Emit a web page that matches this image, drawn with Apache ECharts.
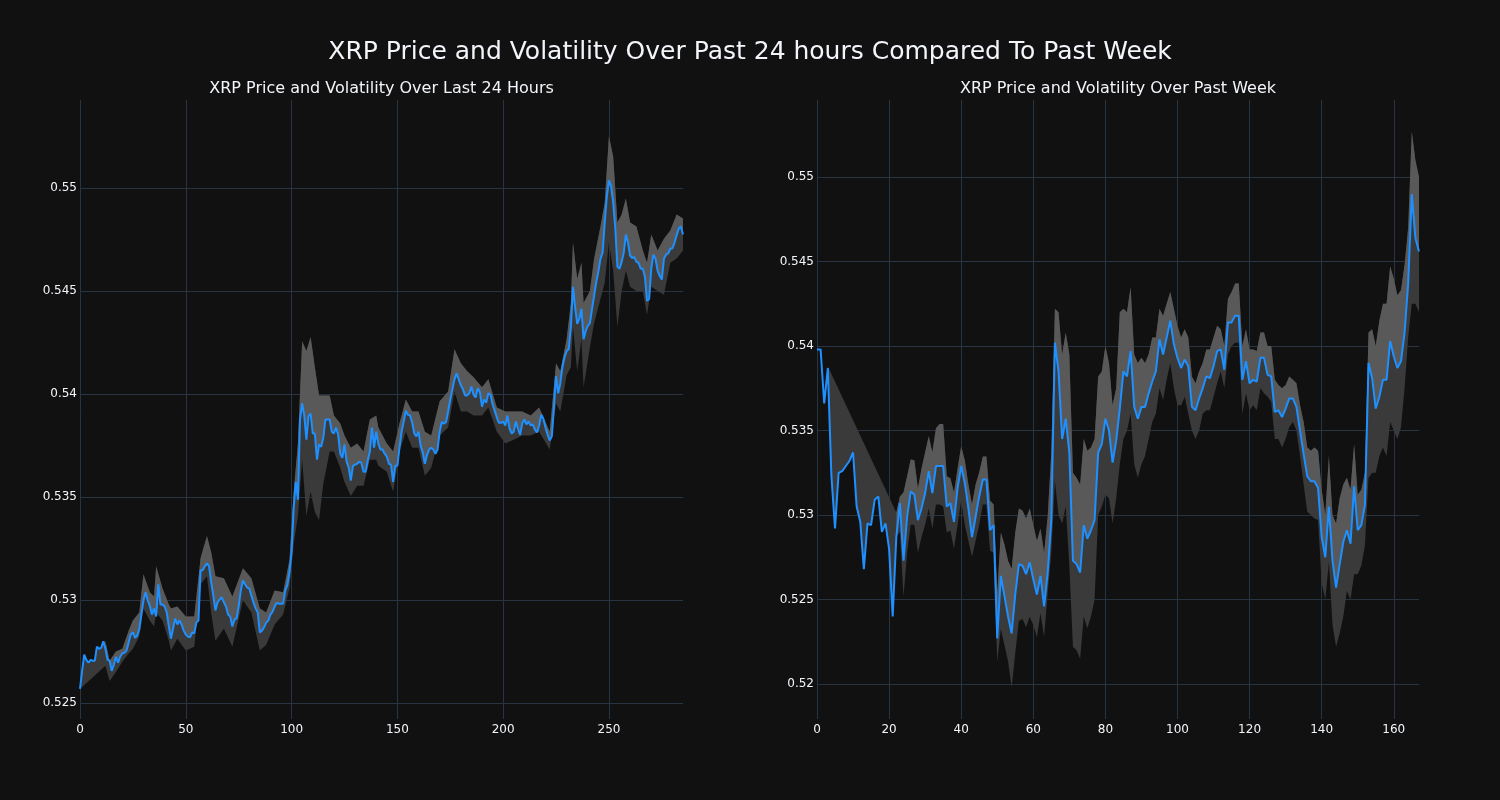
<!DOCTYPE html>
<html><head><meta charset="utf-8">
<script src="https://cdn.jsdelivr.net/npm/echarts@6/dist/echarts.min.js"></script>
<style>html,body{margin:0;padding:0;background:#111111;} #c{width:1500px;height:800px;}</style>
</head><body><div id="c"></div>
<script>
// ---------- 24 hour data (5-minute steps) ----------
const price24 = [
0.52568,0.52656,0.52734,0.52709,0.52695,0.52709,0.52705,0.52705,0.52773,0.52763,
0.52767,0.52799,0.52763,0.52709,0.52705,0.52656,0.52685,0.52724,0.52695,0.52724,
0.52740,0.52744,0.52754,0.52793,0.52832,0.52842,0.52816,0.52826,0.52857,0.52929,
0.52998,0.53037,0.52998,0.52972,0.52929,0.52959,0.52920,0.53076,0.52978,0.52978,
0.52968,0.52939,0.52871,0.52812,0.52861,0.52910,0.52881,0.52900,0.52881,0.52851,
0.52832,0.52822,0.52818,0.52842,0.52838,0.52890,0.52900,0.53144,0.53144,0.53164,
0.53177,0.53164,0.53085,0.53021,0.52949,0.52988,0.53002,0.53013,0.52988,0.52968,
0.52929,0.52920,0.52871,0.52904,0.52910,0.52968,0.53046,0.53095,0.53076,0.53060,
0.53056,0.53021,0.52988,0.52959,0.52939,0.52842,0.52851,0.52867,0.52890,0.52900,
0.52929,0.52943,0.52968,0.52986,0.52982,0.52982,0.52982,0.53046,0.53072,0.53134,
0.53232,0.53447,0.53573,0.53486,0.53876,0.53954,0.53895,0.53778,0.53891,0.53905,
0.53808,0.53808,0.53681,0.53755,0.53743,0.53788,0.53876,0.53876,0.53876,0.53817,
0.53808,0.53837,0.53802,0.53710,0.53690,0.53755,0.53671,0.53642,0.53579,0.53651,
0.53657,0.53661,0.53671,0.53665,0.53622,0.53622,0.53677,0.53720,0.53837,0.53739,
0.53817,0.53759,0.53730,0.53730,0.53710,0.53696,0.53661,0.53657,0.53573,0.53651,
0.53651,0.53739,0.53817,0.53866,0.53919,0.53899,0.53895,0.53860,0.53808,0.53794,
0.53817,0.53749,0.53716,0.53661,0.53704,0.53730,0.53739,0.53730,0.53710,0.53730,
0.53817,0.53864,0.53856,0.53864,0.53915,0.53973,0.54022,0.54071,0.54100,0.54071,
0.54042,0.54022,0.53993,0.53993,0.54003,0.54036,0.53997,0.53983,0.54028,0.54009,
0.53938,0.53973,0.53958,0.54003,0.53997,0.53950,0.53919,0.53886,0.53860,0.53860,
0.53866,0.53847,0.53895,0.53833,0.53808,0.53817,0.53866,0.53831,0.53802,0.53856,
0.53876,0.53852,0.53866,0.53847,0.53852,0.53827,0.53813,0.53847,0.53899,0.53880,
0.53837,0.53802,0.53774,0.53794,0.53934,0.54087,0.54003,0.54052,0.54130,0.54178,
0.54208,0.54217,0.54325,0.54520,0.54422,0.54340,0.54364,0.54413,0.54266,0.54305,
0.54331,0.54344,0.54413,0.54477,0.54543,0.54594,0.54657,0.54686,0.54832,0.54959,
0.55037,0.55008,0.54930,0.54803,0.54617,0.54608,0.54641,0.54686,0.54774,0.54735,
0.54672,0.54660,0.54664,0.54641,0.54637,0.54608,0.54608,0.54569,0.54452,0.54461,
0.54608,0.54676,0.54657,0.54598,0.54573,0.54555,0.54657,0.54676,0.54682,0.54705,
0.54707,0.54735,0.54770,0.54803,0.54813,0.54774
];
const bandX24 = [0,1,2,3,4,5,6,7,8,9,10,11,12,14,17,20,23,25,28,30,33,35,36,39,42,43,46,50,54,57,60,62,64,68,72,77,81,85,88,92,96,99,101,103,105,107,109,111,113,115,118,120,123,125,128,131,134,137,140,141,145,148,151,154,157,160,163,166,170,174,177,180,183,186,190,193,197,201,205,209,213,217,222,225,227,230,232,233,235,237,238,241,243,246,248,250,252,254,256,258,260,263,266,268,270,273,276,279,282,285];
const bandUp24 = [0.52568,0.52656,0.52734,0.52709,0.52695,0.52709,0.52705,0.52705,0.52773,0.52763,0.52767,0.52799,0.5280,0.52705,0.5275,0.52763,0.5285,0.52900,0.52939,0.53125,0.53037,0.53017,0.53164,0.53056,0.52978,0.52959,0.52968,0.52920,0.52920,0.53203,0.53310,0.53232,0.53115,0.53105,0.53017,0.53154,0.53105,0.52959,0.52939,0.53046,0.53037,0.53193,0.53525,0.53759,0.54256,0.54208,0.54276,0.54130,0.53993,0.53993,0.53993,0.53895,0.53856,0.53798,0.53739,0.53759,0.53720,0.53876,0.53895,0.53837,0.53759,0.53720,0.53856,0.53973,0.53915,0.53915,0.53817,0.53798,0.53964,0.54012,0.54217,0.54149,0.54110,0.54081,0.54032,0.54071,0.53934,0.53915,0.53915,0.53915,0.53895,0.53934,0.53817,0.54149,0.54110,0.54266,0.54442,0.54735,0.54559,0.54637,0.54442,0.54500,0.54657,0.54813,0.54930,0.55251,0.55153,0.54832,0.54871,0.54949,0.54832,0.54813,0.54696,0.54637,0.54774,0.54696,0.54754,0.54793,0.54871,0.54852];
const bandLo24 = [0.52568,null,null,null,null,null,null,null,null,null,null,null,0.5268,0.52607,0.5265,0.5270,0.5274,0.52763,0.52822,0.52959,0.52900,0.52871,0.52939,0.52900,0.52802,0.52754,0.52812,0.52754,0.52773,0.53076,0.53115,0.52939,0.52802,0.52861,0.52773,0.52998,0.52939,0.52754,0.52783,0.52881,0.52929,0.53056,0.53271,0.53407,0.53681,0.53407,0.53525,0.53427,0.53388,0.53564,0.53720,0.53720,0.53642,0.53573,0.53505,0.53554,0.53554,0.53681,0.53681,0.53651,0.53622,0.53525,0.53720,0.53817,0.53739,0.53739,0.53603,0.53642,0.53798,0.53837,0.54012,0.53915,0.53915,0.53895,0.53895,0.53934,0.53817,0.53759,0.53778,0.53798,0.53798,0.53817,0.53730,0.53954,0.53915,0.54091,0.54130,0.54325,0.54110,0.54266,0.54032,0.54227,0.54344,0.54461,0.54540,0.54735,0.54598,0.54325,0.54500,0.54598,0.54520,0.54500,0.54500,0.54383,0.54520,0.54500,0.54481,0.54637,0.54657,0.54696];

// ---------- past week data (hourly) ----------
const priceWeek = [
0.5398,0.5398,0.5366,0.5387,0.5323,0.5292,0.5325,0.5326,0.5329,0.5332,
0.5337,0.5305,0.5296,0.5268,0.5295,0.5294,0.5309,0.5311,0.5290,0.5295,
0.5280,0.5240,0.5287,0.5307,0.5273,0.5299,0.5314,0.5312,0.5297,0.5304,
0.5313,0.5326,0.5313,0.5329,0.5329,0.5329,0.5305,0.5307,0.5296,0.5316,
0.5329,0.5319,0.5304,0.5287,0.5299,0.5311,0.5321,0.5321,0.5291,0.5294,
0.5227,0.5264,0.5252,0.5240,0.5230,0.5253,0.5271,0.5270,0.5265,0.5272,
0.5262,0.5253,0.5264,0.5246,0.5266,0.5297,0.5402,0.5385,0.5345,0.5357,
0.5337,0.5273,0.5271,0.5266,0.5294,0.5286,0.5291,0.5297,0.5337,0.5342,
0.5357,0.5350,0.5331,0.5344,0.5363,0.5385,0.5382,0.5397,0.5364,0.5357,
0.5364,0.5364,0.5372,0.5379,0.5385,0.5404,0.5395,0.5405,0.5415,0.5401,
0.5393,0.5387,0.5392,0.5388,0.5364,0.5362,0.5369,0.5375,0.5382,0.5381,
0.5388,0.5397,0.5398,0.5386,0.5414,0.5414,0.5418,0.5418,0.5380,0.5391,
0.5378,0.5380,0.5379,0.5393,0.5393,0.5383,0.5382,0.5361,0.5362,0.5358,
0.5363,0.5369,0.5369,0.5364,0.5350,0.5336,0.5323,0.5320,0.5320,0.5316,
0.5287,0.5275,0.5305,0.5273,0.5257,0.5271,0.5284,0.5291,0.5283,0.5317,
0.5291,0.5294,0.5306,0.5390,0.5381,0.5363,0.5370,0.5380,0.5380,0.5403,
0.5394,0.5387,0.5391,0.5408,0.5437,0.5490,0.5464,0.5456
];
const bandXWeek = [3,4,5,6,7,8,9,10,11,12,13,14,15,16,17,18,19,20,21,22,23,24,25,26,27,28,29,30,31,32,33,34,35,36,37,38,39,40,41,42,43,44,45,46,47,48,49,50,51,52,53,54,55,56,57,58,59,60,61,62,63,64,65,66,67,68,69,70,71,72,73,74,75,76,77,78,79,80,81,82,83,84,85,86,87,88,89,90,91,92,93,94,95,96,97,98,99,100,101,102,103,104,105,106,107,108,109,110,111,112,113,114,115,116,117,118,119,120,121,122,123,124,125,126,127,128,129,130,131,132,133,134,135,136,137,138,139,140,141,142,143,144,145,146,147,148,149,150,151,152,153,154,155,156,157,158,159,160,161,162,163,164,165,166,167];
const bandUpWeek = [0.5388,null,null,null,null,null,null,null,null,null,null,null,null,null,null,null,null,null,null,
0.53015,0.5311,0.53134,0.53229,0.53328,0.53324,0.53157,0.53276,0.53371,0.53466,0.53371,0.53514,0.53538,0.53538,0.53229,0.53217,0.53134,0.53276,0.53407,0.53324,0.53181,0.53062,0.53181,0.53252,0.53347,0.53347,0.53086,0.53062,
0.52539,0.52896,0.52825,0.5273,0.52682,0.52896,0.53038,0.53027,0.52979,0.53038,0.52943,0.52848,0.5292,0.52777,0.52991,0.53371,
0.5422,0.5420,0.5395,0.5408,0.5395,0.5325,0.5322,0.5318,0.5345,0.5338,0.5340,0.5345,0.5382,0.5385,0.5400,0.5390,0.5365,0.5375,0.5420,0.5422,0.5420,0.5435,0.5395,0.5390,0.5393,0.5390,0.5395,0.5405,0.5405,0.5422,0.5418,0.5425,0.5432,0.5422,0.5412,0.5405,0.5410,0.5405,0.5382,0.5378,0.5385,0.5390,0.5398,0.5398,0.5405,0.5412,0.5410,0.5400,0.5428,0.5432,0.5437,0.5437,0.5400,0.5410,0.5398,0.5398,0.5397,0.5408,0.5408,0.5400,0.5400,0.5380,0.5377,0.5375,0.5377,0.5382,0.5380,0.5378,0.5365,0.5355,0.5340,0.5338,0.5340,0.5338,0.5315,0.5300,0.5335,0.5300,0.5295,0.5310,0.5318,0.5322,0.5315,0.5342,0.5312,0.5315,0.5325,0.5408,0.5410,0.5400,0.5415,0.5425,0.5425,0.5447,0.5440,0.5430,0.5433,0.5448,0.5470,0.5527,0.5510,0.5500];
const bandLoWeek = [0.5388,0.5323,0.5292,0.5325,0.5326,0.5329,0.5332,0.5337,0.5305,0.5296,0.5268,0.5295,0.5294,0.5309,0.5311,0.5290,0.5295,0.5280,0.5240,
0.52872,0.5290,0.52516,0.52777,0.52943,0.52943,0.52777,0.52872,0.52943,0.53038,0.5292,0.53062,0.53062,0.5305,0.52896,0.52908,0.52801,0.52943,0.53086,0.52943,0.52848,0.52753,0.52848,0.52943,0.53062,0.53062,0.52789,0.52777,
0.52135,0.52326,0.52231,0.52135,0.5198,0.52183,0.52373,0.52385,0.52337,0.52397,0.52349,0.52278,0.52421,0.52278,0.52539,0.52777,
0.5320,0.5300,0.5295,0.5305,0.5270,0.5222,0.5220,0.5215,0.5240,0.5233,0.5240,0.5250,0.5300,0.5305,0.5312,0.5310,0.5295,0.5310,0.5330,0.5345,0.5350,0.5360,0.5330,0.5322,0.5330,0.5335,0.5345,0.5355,0.5360,0.5375,0.5368,0.5380,0.5390,0.5375,0.5365,0.5365,0.5370,0.5360,0.5350,0.5345,0.5350,0.5360,0.5362,0.5362,0.5370,0.5378,0.5385,0.5375,0.5395,0.5400,0.5402,0.5402,0.5360,0.5372,0.5362,0.5365,0.5362,0.5375,0.5372,0.5370,0.5367,0.5345,0.5345,0.5340,0.5345,0.5352,0.5355,0.5350,0.5335,0.5318,0.5302,0.5300,0.5298,0.5297,0.5260,0.5250,0.5272,0.5235,0.5222,0.5230,0.5240,0.5255,0.5250,0.5265,0.5265,0.5270,0.5282,0.5322,0.5325,0.5325,0.5335,0.5340,0.5335,0.5355,0.5350,0.5345,0.5352,0.5375,0.5405,0.5425,0.5425,0.5420];

// ---------- axis ticks ----------
const xTicks24 = [0, 50, 100, 150, 200, 250];
const yTicks24 = [0.525, 0.53, 0.535, 0.54, 0.545, 0.55];
const xTicksWeek = [0, 20, 40, 60, 80, 100, 120, 140, 160];
const yTicksWeek = [0.52, 0.525, 0.53, 0.535, 0.54, 0.545, 0.55];

const mainTitle = 'XRP Price and Volatility Over Past 24 hours Compared To Past Week';
const subTitle24 = 'XRP Price and Volatility Over Last 24 Hours';
const subTitleWeek = 'XRP Price and Volatility Over Past Week';

const FONT = 'DejaVu Sans';
const TXT = '#f2f5fa';
const GRID = '#283442';
const LINE = '#1e90ff';
const DARK = '#3a3a3a';
const LIGHT = '#595959';

function bandPolys(price, bx, bu, bl, lightStart) {
  const up = [], lo = [];
  bx.forEach((x, i) => {
    if (bu[i] != null) up.push([x, bu[i]]);
    if (bl[i] != null) lo.push([x, bl[i]]);
  });
  const dark = up.concat(lo.slice().reverse());
  const lastX = bx[bx.length - 1];
  const lineSeg = price.map((v, i) => [i, v]).filter(p => p[0] >= lightStart && p[0] <= lastX);
  const upSeg = up.filter(p => p[0] >= lightStart);
  const light = lineSeg.concat(upSeg.slice().reverse());
  return { dark, light };
}

function polySeries(pts, color, idx, z) {
  return {
    type: 'custom', coordinateSystem: 'cartesian2d', xAxisIndex: idx, yAxisIndex: idx,
    silent: true, z: z, clip: true, data: [pts[0]],
    renderItem: (params, api) => ({
      type: 'polygon',
      shape: { points: pts.map(p => api.coord(p)) },
      style: { fill: color, stroke: null }
    })
  };
}

function lineSeries(price, idx) {
  return {
    type: 'line', xAxisIndex: idx, yAxisIndex: idx, showSymbol: false, z: 5,
    data: price.map((v, i) => [i, v]),
    lineStyle: { color: LINE, width: 2 }, itemStyle: { color: LINE }, silent: true
  };
}

function xAxis(idx, max, ticks) {
  return {
    type: 'value', gridIndex: idx, min: 0, max: max,
    axisLine: { show: false },
    axisTick: { show: false, customValues: ticks },
    axisLabel: { customValues: ticks, color: TXT, fontFamily: FONT, fontSize: 12, margin: 5 },
    splitLine: { show: true, lineStyle: { color: GRID, width: 1 } }
  };
}
function yAxis(idx, min, max, ticks) {
  return {
    type: 'value', gridIndex: idx, min: min, max: max,
    axisLine: { show: false },
    axisTick: { show: false, customValues: ticks },
    axisLabel: { customValues: ticks, color: TXT, fontFamily: FONT, fontSize: 12, margin: 3,
      formatter: v => String(+v.toFixed(4)) },
    splitLine: { show: true, lineStyle: { color: GRID, width: 1 } }
  };
}

const b24 = bandPolys(price24, bandX24, bandUp24, bandLo24, 12);
const bW = bandPolys(priceWeek, bandXWeek, bandUpWeek, bandLoWeek, 22);

const chart = echarts.init(document.getElementById('c'), null, { renderer: 'canvas' });
chart.setOption({
  backgroundColor: '#111111',
  animation: false,
  title: [{
    text: mainTitle, left: 'center', top: 35,
    textStyle: { color: TXT, fontFamily: FONT, fontSize: 25, fontWeight: 'normal' }
  }],
  graphic: [
    { type: 'text', x: 381.5, y: 89, style: { text: subTitle24, fill: TXT, font: '16px "DejaVu Sans"', textAlign: 'center', textVerticalAlign: 'middle' } },
    { type: 'text', x: 1118, y: 89, style: { text: subTitleWeek, fill: TXT, font: '16px "DejaVu Sans"', textAlign: 'center', textVerticalAlign: 'middle' } }
  ],
  grid: [
    { left: 80, top: 100, width: 603, height: 619 },
    { left: 817, top: 100, width: 602, height: 619 }
  ],
  xAxis: [xAxis(0, 285, xTicks24), xAxis(1, 167, xTicksWeek)],
  yAxis: [yAxis(0, 0.52422, 0.55427, yTicks24), yAxis(1, 0.51793, 0.55456, yTicksWeek)],
  series: [
    polySeries(b24.dark, DARK, 0, 1),
    polySeries(b24.light, LIGHT, 0, 2),
    lineSeries(price24, 0),
    polySeries(bW.dark, DARK, 1, 1),
    polySeries(bW.light, LIGHT, 1, 2),
    lineSeries(priceWeek, 1)
  ]
});
</script></body></html>
